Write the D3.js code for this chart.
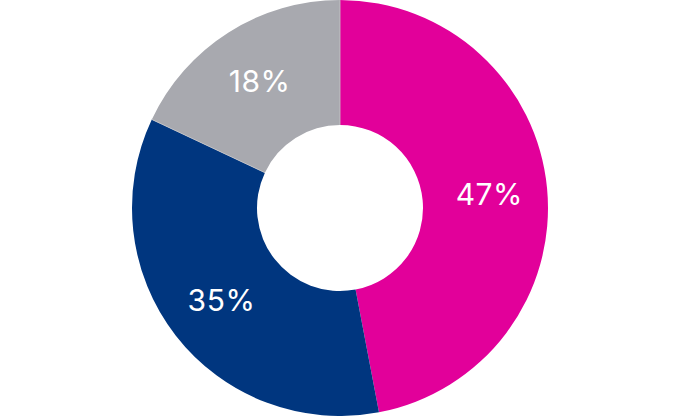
<!DOCTYPE html>
<html><head><meta charset="utf-8">
<script src="https://cdn.jsdelivr.net/npm/d3@7"></script>
<style>html,body{margin:0;padding:0;background:#fff;}svg{display:block;}</style>
</head><body>
<svg id="chart" width="680" height="416"></svg>
<script>
const categories = ["A", "B", "C"];
const values = [47, 35, 18];
const labels = ["47%", "35%", "18%"];
const colors = ["#E2009A", "#00367F", "#A8A9AF"];

const svg = d3.select("#chart");
const cx = 340, cy = 208, outerR = 208, innerR = 83, labelR = 150;
const g = svg.append("g").attr("transform", `translate(${cx},${cy})`);

const pie = d3.pie().sort(null).value(d => d.v);
const data = pie(categories.map((c, i) => ({c, v: values[i], l: labels[i], col: colors[i]})));
const arc = d3.arc().innerRadius(innerR).outerRadius(outerR);
const labelArc = d3.arc().innerRadius(labelR).outerRadius(labelR);

g.selectAll("path").data(data).join("path")
  .attr("d", arc)
  .attr("fill", d => d.data.col);

// thin light separators on the edges of the grey slice
const grey = data[2];
g.selectAll("line.sep").data([grey.startAngle, grey.endAngle]).join("line")
  .attr("class", "sep")
  .attr("x1", a => innerR * Math.sin(a))
  .attr("y1", a => -innerR * Math.cos(a))
  .attr("x2", a => outerR * Math.sin(a))
  .attr("y2", a => -outerR * Math.cos(a))
  .attr("stroke", "#c6c7c9")
  .attr("stroke-width", 0.8);

g.selectAll("text").data(data).join("text")
  .attr("transform", d => `translate(${labelArc.centroid(d)})`)
  .attr("text-anchor", "middle")
  .attr("dy", "0.36em")
  .attr("fill", "#fff")
  .style("font-family", "Inter, 'Open Sans', sans-serif")
  .style("font-size", "30px")
  .style("font-weight", 400)
  .style("letter-spacing", "0.5px")
  .text(d => d.data.l);
</script>
</body></html>
